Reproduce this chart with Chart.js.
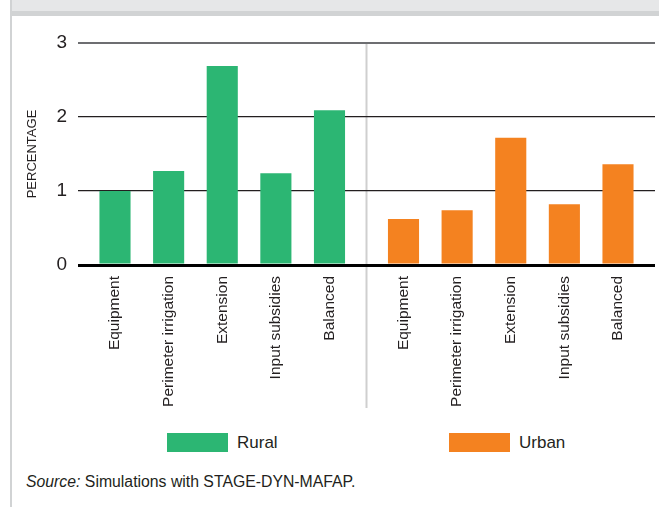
<!DOCTYPE html>
<html>
<head>
<meta charset="utf-8">
<script src="https://cdn.jsdelivr.net/npm/chart.js@4/dist/chart.umd.min.js"></script>
<style>
  body { margin: 0; background: #fff; width: 659px; height: 507px; overflow: hidden; position: relative;
         font-family: "Liberation Sans", Arial, sans-serif; color: #231f20; }
  .band { position: absolute; left: 10px; top: 0; width: 649px; height: 11px; background: #e6e7e8; }
  .strip { position: absolute; left: 10px; top: 11px; width: 649px; height: 5px; background: #d1d3d4; }
  .edge { position: absolute; left: 10px; top: 0; width: 2px; height: 507px; background: #d1d3d4; }
  .wrap { position: absolute; left: 0; top: 0; width: 659px; height: 420px; }
  .key { position: absolute; top: 433px; height: 19px; display: flex; align-items: center; font-size: 17px; }
  .key span { display: inline-block; width: 61px; height: 19px; margin-right: 9px; }
  .source { position: absolute; left: 26px; top: 473px; font-size: 15.8px; }
</style>
</head>
<body>
<div class="band"></div>
<div class="strip"></div>
<div class="edge"></div>
<div class="wrap"><canvas id="chart"></canvas></div>
<div class="key" style="left:167px"><span style="background:#2cb673"></span>Rural</div>
<div class="key" style="left:449px"><span style="background:#f48220"></span>Urban</div>
<div class="source"><i>Source:</i> Simulations with STAGE-DYN-MAFAP.</div>
<script>
const categories = ["Equipment", "Perimeter irrigation", "Extension", "Input subsidies", "Balanced"];
const rural = [1.00, 1.27, 2.69, 1.24, 2.09];
const urban = [0.62, 0.74, 1.72, 0.82, 1.36];
const yTicks = [0, 1, 2, 3];

const font = "'Liberation Sans', Arial, sans-serif";
const ink = "#231f20";

// each group sits in its own half of the plot; x is the category index
function panelAxis() {
  return {
    type: "linear",
    position: "bottom",
    stack: "groups",
    stackWeight: 1,
    offset: false,
    min: -0.69,
    max: 4.69,
    grid: { display: false, drawTicks: false },
    border: { display: false },
    afterBuildTicks: (s) => { s.ticks = categories.map((c, i) => ({ value: i })); },
    afterFit: (s) => {
      s.height = 155;
      s.paddingLeft = 0;
      s.paddingRight = 0;
    },
    ticks: {
      autoSkip: false,
      minRotation: 90,
      maxRotation: 90,
      padding: 11,
      color: ink,
      font: { family: font, size: 15.5 },
      callback: (v) => categories[v],
    },
  };
}

const separator = {
  id: "separator",
  beforeDraw(chart) {
    const ctx = chart.ctx;
    const x = chart.scales.x2.left;
    ctx.save();
    ctx.strokeStyle = "#cfcfcf";
    ctx.lineWidth = 2;
    ctx.beginPath();
    ctx.moveTo(x, chart.chartArea.top);
    ctx.lineTo(x, chart.chartArea.bottom + 143);
    ctx.stroke();
    ctx.restore();
  },
};

new Chart(document.getElementById("chart"), {
  type: "bar",
  data: {
    datasets: [
      {
        label: "Rural",
        xAxisID: "x",
        data: rural.map((v, i) => ({ x: i, y: v })),
        backgroundColor: "#2cb673",
        grouped: false,
        barPercentage: 0.58,
        categoryPercentage: 1,
      },
      {
        label: "Urban",
        xAxisID: "x2",
        data: urban.map((v, i) => ({ x: i, y: v })),
        backgroundColor: "#f48220",
        grouped: false,
        barPercentage: 0.58,
        categoryPercentage: 1,
      },
    ],
  },
  options: {
    responsive: true,
    maintainAspectRatio: false,
    animation: false,
    layout: { padding: { top: 43, right: 4, bottom: 0, left: 0 } },
    scales: {
      x: panelAxis(),
      x2: panelAxis(),
      y: {
        min: 0,
        max: 3,
        afterBuildTicks: (s) => { s.ticks = yTicks.map((v) => ({ value: v })); },
        afterFit: (s) => { s.width = 78; },
        border: { display: false },
        grid: {
          drawTicks: false,
          color: (c) => (c.tick.value === 0 ? "#000" : c.tick.value === 3 ? "#6d6e71" : ink),
          lineWidth: (c) => (c.tick.value === 0 ? 3 : c.tick.value === 3 ? 2 : 1.3),
        },
        ticks: { padding: 11, color: ink, font: { family: font, size: 19 } },
        title: {
          display: true,
          text: "PERCENTAGE",
          color: ink,
          padding: { top: 25, bottom: 0 },
          font: { family: font, size: 13 },
        },
      },
    },
    plugins: {
      legend: { display: false },
      tooltip: { enabled: false },
    },
  },
  plugins: [separator],
});
</script>
</body>
</html>
